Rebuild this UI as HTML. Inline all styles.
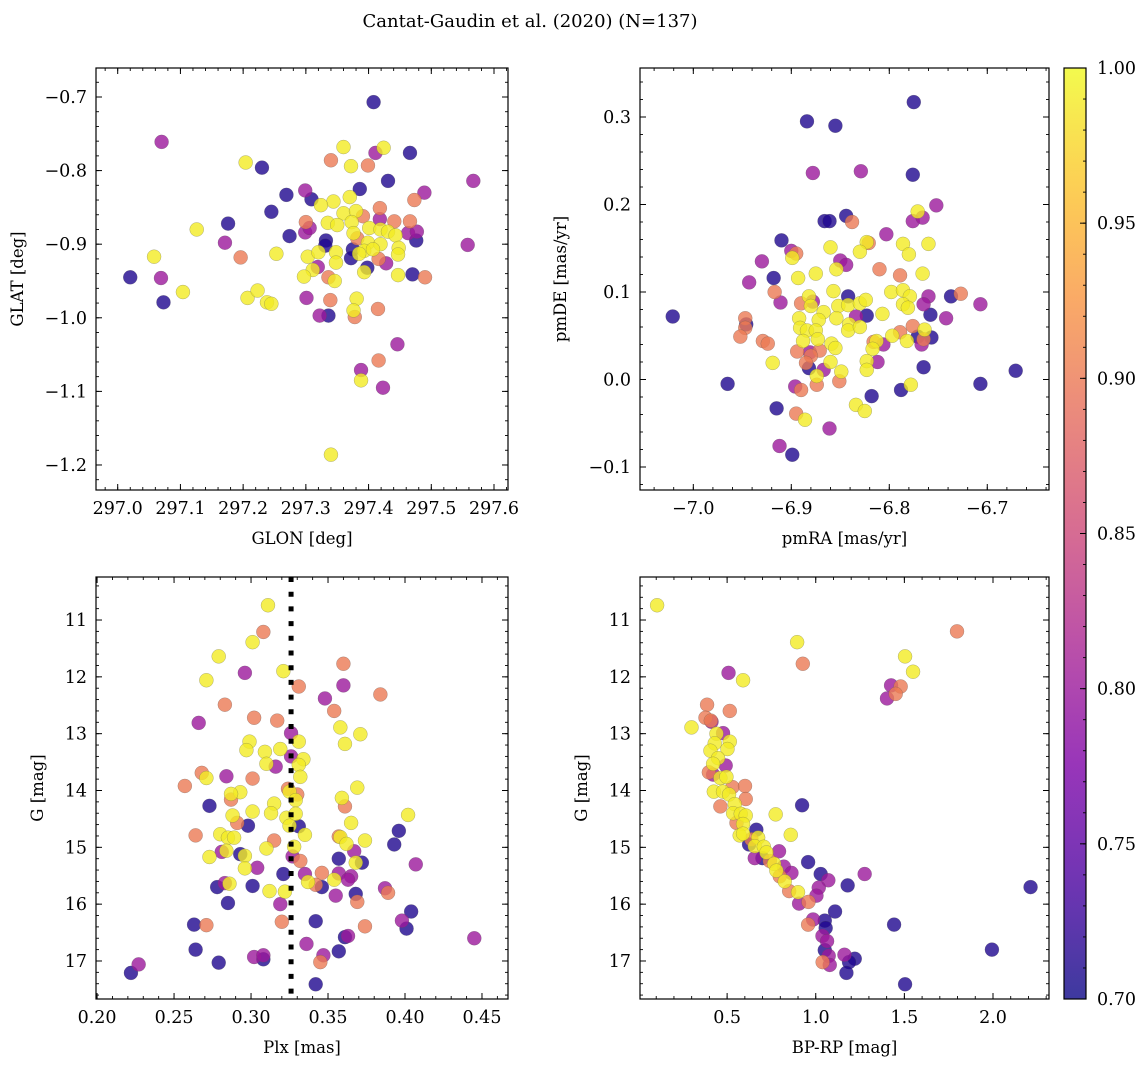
<!DOCTYPE html>
<html><head><meta charset="utf-8"><style>
html,body{margin:0;padding:0;background:#fff;}
svg{display:block;font-family:"DejaVu Serif","Liberation Serif",serif;}
</style></head><body>
<svg id="fig" width="1148" height="1067" viewBox="0 0 1148 1067">
<text x="530" y="27" text-anchor="middle" font-size="18">Cantat-Gaudin et al. (2020) (N=137)</text>
</svg>
<script>
// ---- Panel 1: GLON vs GLAT ----
const glon=[297.408,297.070,297.360,297.411,297.424,297.466,297.204,297.230,297.340,297.372,297.399,297.567,297.431,297.386,297.489,297.299,297.269,297.309,297.344,297.324,297.370,297.473,297.418,297.245,297.176,297.126,297.300,297.335,297.360,297.380,297.391,297.418,297.441,297.466,297.299,297.306,297.274,297.350,297.373,297.401,297.376,297.419,297.431,297.463,297.477,297.476,297.443,297.558,297.171,297.332,297.331,297.382,297.399,297.419,297.375,297.393,297.407,297.448,297.447,297.058,297.196,297.253,297.303,297.320,297.348,297.348,297.372,297.385,297.416,297.428,297.398,297.393,297.020,297.069,297.319,297.311,297.297,297.336,297.346,297.447,297.470,297.490,297.073,297.104,297.207,297.223,297.238,297.245,297.301,297.339,297.381,297.322,297.336,297.378,297.376,297.415,297.446,297.416,297.388,297.388,297.423,297.340];
const glat=[-0.707,-0.761,-0.768,-0.776,-0.769,-0.776,-0.789,-0.796,-0.786,-0.794,-0.793,-0.814,-0.814,-0.825,-0.830,-0.827,-0.833,-0.839,-0.842,-0.847,-0.836,-0.840,-0.851,-0.856,-0.872,-0.880,-0.870,-0.871,-0.858,-0.855,-0.862,-0.866,-0.869,-0.869,-0.884,-0.878,-0.889,-0.874,-0.870,-0.878,-0.885,-0.880,-0.883,-0.885,-0.883,-0.895,-0.888,-0.901,-0.898,-0.895,-0.902,-0.892,-0.898,-0.900,-0.907,-0.909,-0.907,-0.905,-0.914,-0.917,-0.918,-0.913,-0.917,-0.911,-0.911,-0.925,-0.919,-0.913,-0.920,-0.926,-0.932,-0.938,-0.945,-0.946,-0.931,-0.935,-0.944,-0.945,-0.950,-0.942,-0.941,-0.945,-0.979,-0.965,-0.973,-0.963,-0.979,-0.981,-0.973,-0.976,-0.974,-0.997,-0.997,-0.999,-0.990,-0.988,-1.036,-1.058,-1.071,-1.085,-1.095,-1.186];
const prob1=[0.71,0.80,0.99,0.80,0.99,0.71,0.99,0.71,0.90,0.99,0.90,0.80,0.71,0.71,0.80,0.80,0.71,0.71,0.99,0.99,0.99,0.90,0.90,0.71,0.71,0.99,0.90,0.99,0.99,0.99,0.90,0.80,0.90,0.90,0.80,0.80,0.71,0.99,0.99,0.99,0.99,0.99,0.99,0.80,0.80,0.71,0.99,0.80,0.80,0.71,0.71,0.90,0.99,0.99,0.71,0.99,0.99,0.99,0.99,0.99,0.90,0.99,0.99,0.99,0.99,0.99,0.71,0.99,0.90,0.80,0.71,0.99,0.71,0.80,0.80,0.99,0.99,0.90,0.99,0.99,0.71,0.90,0.71,0.99,0.99,0.99,0.99,0.99,0.80,0.90,0.99,0.80,0.71,0.90,0.99,0.90,0.80,0.90,0.80,0.99,0.80,0.99];

// ---- Panel 2: pmRA vs pmDE ----
const pmra=[-6.775,-6.884,-6.855,-6.878,-6.829,-6.776,-6.752,-6.771,-6.776,-6.766,-6.866,-6.861,-6.844,-6.838,-6.803,-6.821,-6.823,-6.786,-6.780,-6.760,-6.860,-6.830,-6.910,-6.900,-6.895,-6.899,-6.930,-6.850,-6.844,-6.854,-6.810,-6.789,-6.766,-6.943,-6.918,-6.893,-6.875,-6.857,-6.917,-6.911,-6.890,-6.882,-6.878,-6.880,-6.842,-6.852,-6.842,-6.830,-6.824,-6.798,-6.786,-6.779,-6.786,-6.781,-6.760,-6.765,-6.737,-6.727,-6.707,-7.021,-6.947,-6.946,-6.947,-6.952,-6.929,-6.924,-6.892,-6.867,-6.872,-6.854,-6.834,-6.823,-6.807,-6.758,-6.742,-6.891,-6.884,-6.875,-6.841,-6.842,-6.830,-6.776,-6.789,-6.797,-6.764,-6.771,-6.757,-6.765,-6.767,-6.782,-6.806,-6.813,-6.816,-6.817,-6.888,-6.873,-6.859,-6.855,-6.894,-6.871,-6.881,-6.880,-6.885,-6.919,-6.860,-6.812,-6.823,-6.823,-6.882,-6.867,-6.874,-6.849,-6.765,-6.965,-6.896,-6.890,-6.874,-6.851,-6.778,-6.788,-6.707,-6.671,-6.818,-6.834,-6.825,-6.915,-6.895,-6.886,-6.861,-6.912,-6.899];
const pmde=[0.317,0.295,0.290,0.236,0.238,0.234,0.199,0.192,0.181,0.185,0.181,0.181,0.187,0.180,0.166,0.156,0.157,0.155,0.143,0.155,0.151,0.146,0.159,0.147,0.144,0.139,0.135,0.136,0.131,0.126,0.126,0.119,0.121,0.111,0.116,0.116,0.121,0.101,0.100,0.088,0.087,0.095,0.089,0.084,0.095,0.084,0.085,0.087,0.091,0.100,0.102,0.095,0.086,0.082,0.095,0.086,0.095,0.098,0.086,0.072,0.070,0.063,0.059,0.049,0.044,0.041,0.070,0.077,0.068,0.070,0.072,0.073,0.075,0.074,0.070,0.059,0.056,0.056,0.063,0.056,0.060,0.061,0.054,0.050,0.057,0.049,0.048,0.046,0.040,0.044,0.040,0.044,0.043,0.035,0.044,0.046,0.041,0.036,0.032,0.033,0.031,0.027,0.019,0.019,0.020,0.020,0.021,0.011,0.013,0.011,0.004,0.009,0.014,-0.005,-0.008,-0.012,-0.006,-0.002,-0.006,-0.012,-0.005,0.010,-0.019,-0.029,-0.036,-0.033,-0.039,-0.046,-0.056,-0.076,-0.086];
const prob2=[0.71,0.71,0.71,0.80,0.80,0.71,0.80,0.99,0.80,0.80,0.71,0.71,0.71,0.90,0.80,0.90,0.99,0.99,0.99,0.99,0.99,0.99,0.71,0.80,0.90,0.99,0.80,0.80,0.80,0.99,0.90,0.90,0.99,0.80,0.71,0.99,0.99,0.99,0.90,0.80,0.90,0.99,0.80,0.99,0.71,0.99,0.99,0.99,0.99,0.99,0.99,0.99,0.99,0.99,0.80,0.80,0.71,0.90,0.80,0.71,0.90,0.71,0.90,0.90,0.90,0.90,0.99,0.99,0.99,0.99,0.80,0.71,0.99,0.71,0.80,0.99,0.99,0.99,0.99,0.99,0.99,0.90,0.90,0.99,0.99,0.71,0.71,0.90,0.80,0.99,0.80,0.99,0.90,0.99,0.99,0.99,0.99,0.99,0.90,0.90,0.80,0.90,0.90,0.99,0.99,0.80,0.99,0.99,0.71,0.80,0.99,0.99,0.71,0.71,0.80,0.90,0.90,0.90,0.99,0.71,0.71,0.71,0.71,0.99,0.99,0.71,0.90,0.99,0.80,0.80,0.71];

// ---- Panel 3: Plx vs G ----
const plx=[0.311,0.308,0.301,0.279,0.296,0.321,0.271,0.331,0.360,0.360,0.384,0.348,0.354,0.283,0.302,0.317,0.266,0.358,0.371,0.361,0.326,0.299,0.297,0.309,0.319,0.331,0.326,0.334,0.331,0.310,0.316,0.332,0.268,0.271,0.284,0.301,0.257,0.324,0.325,0.330,0.293,0.287,0.287,0.369,0.359,0.361,0.329,0.315,0.313,0.301,0.273,0.288,0.291,0.323,0.329,0.325,0.331,0.298,0.402,0.365,0.396,0.393,0.264,0.280,0.285,0.289,0.315,0.335,0.357,0.358,0.362,0.374,0.310,0.328,0.281,0.284,0.273,0.293,0.296,0.327,0.332,0.357,0.367,0.372,0.368,0.407,0.296,0.304,0.321,0.335,0.346,0.357,0.365,0.363,0.354,0.337,0.342,0.346,0.278,0.283,0.286,0.301,0.312,0.322,0.387,0.389,0.368,0.355,0.369,0.285,0.319,0.404,0.398,0.401,0.263,0.271,0.320,0.342,0.374,0.361,0.363,0.445,0.336,0.264,0.357,0.347,0.345,0.302,0.308,0.308,0.279,0.227,0.222,0.342];
const gmag3=[10.74,11.21,11.39,11.64,11.93,11.90,12.06,12.17,11.77,12.15,12.31,12.38,12.60,12.49,12.72,12.77,12.81,12.89,13.01,13.18,12.99,13.14,13.29,13.32,13.27,13.14,13.40,13.45,13.55,13.53,13.58,13.76,13.69,13.78,13.75,13.79,13.92,13.97,14.02,14.07,14.03,14.06,14.16,13.95,14.13,14.28,14.17,14.23,14.40,14.37,14.27,14.44,14.57,14.48,14.41,14.62,14.63,14.62,14.43,14.57,14.71,14.95,14.79,14.77,14.83,14.83,14.88,14.78,14.81,14.82,14.94,14.88,15.02,14.99,15.08,15.06,15.17,15.12,15.15,15.16,15.24,15.20,15.07,15.27,15.27,15.30,15.37,15.36,15.47,15.47,15.45,15.46,15.51,15.57,15.57,15.61,15.66,15.70,15.70,15.63,15.64,15.68,15.77,15.78,15.72,15.80,15.82,15.85,15.96,15.98,16.00,16.13,16.29,16.43,16.36,16.37,16.31,16.30,16.39,16.58,16.56,16.60,16.70,16.80,16.83,16.90,17.02,16.93,16.90,16.97,17.03,17.06,17.21,17.41];
const prob3=[0.99,0.90,0.99,0.99,0.80,0.99,0.99,0.90,0.90,0.80,0.90,0.80,0.90,0.90,0.90,0.90,0.80,0.99,0.99,0.99,0.80,0.99,0.99,0.99,0.99,0.99,0.80,0.99,0.99,0.99,0.80,0.99,0.90,0.99,0.80,0.90,0.90,0.90,0.99,0.90,0.99,0.99,0.90,0.99,0.99,0.90,0.99,0.99,0.99,0.99,0.71,0.99,0.90,0.99,0.99,0.99,0.71,0.71,0.99,0.99,0.71,0.71,0.90,0.99,0.99,0.99,0.90,0.99,0.90,0.99,0.99,0.99,0.99,0.99,0.80,0.99,0.99,0.71,0.99,0.80,0.90,0.71,0.80,0.71,0.99,0.80,0.99,0.80,0.71,0.80,0.90,0.80,0.80,0.80,0.99,0.99,0.90,0.71,0.71,0.80,0.99,0.71,0.99,0.99,0.80,0.90,0.71,0.80,0.90,0.71,0.80,0.71,0.80,0.71,0.71,0.90,0.90,0.71,0.90,0.71,0.80,0.80,0.80,0.71,0.71,0.80,0.90,0.80,0.80,0.71,0.71,0.80,0.71,0.71];
const plxMean=[0.326];

// ---- Panel 4: BP-RP vs G ----
const bprp=[0.105,0.895,0.927,1.797,1.504,1.549,0.508,0.590,1.425,1.479,1.451,1.402,0.387,0.515,0.378,0.412,0.408,0.299,0.477,0.440,0.515,0.430,0.502,0.406,0.449,0.492,0.421,0.397,0.421,0.462,0.496,0.530,0.601,0.605,0.425,0.477,0.511,0.462,0.543,0.534,0.577,0.605,0.923,0.774,0.553,0.590,0.665,0.571,0.859,0.590,0.637,0.675,0.624,0.656,0.707,0.722,0.793,0.656,0.699,0.741,0.765,0.957,0.820,0.778,0.863,1.028,1.276,0.797,0.825,1.071,1.180,2.212,1.017,0.850,0.900,1.004,0.906,0.959,1.109,0.985,0.957,1.051,1.056,1.442,1.038,1.064,1.051,1.073,1.162,1.220,1.188,1.039,1.079,1.173,1.994,1.504];
const gmag4=[10.74,11.39,11.77,11.20,11.64,11.91,11.93,12.06,12.15,12.17,12.30,12.38,12.49,12.60,12.72,12.79,12.77,12.89,12.99,13.00,13.14,13.17,13.27,13.30,13.43,13.56,13.53,13.68,13.72,13.78,13.76,13.94,13.92,14.15,14.02,14.02,14.07,14.28,14.24,14.40,14.41,14.44,14.26,14.42,14.57,14.59,14.69,14.79,14.78,14.76,14.86,14.83,14.95,14.98,14.99,15.09,15.07,15.19,15.19,15.24,15.29,15.26,15.34,15.41,15.45,15.47,15.47,15.51,15.60,15.58,15.67,15.70,15.71,15.77,15.79,15.85,15.99,15.96,16.13,16.27,16.36,16.29,16.42,16.36,16.56,16.65,16.81,16.91,16.89,16.96,17.02,17.02,17.07,17.21,16.80,17.41];
const prob4=[0.99,0.99,0.90,0.90,0.99,0.99,0.80,0.99,0.80,0.90,0.90,0.80,0.90,0.90,0.90,0.80,0.90,0.99,0.80,0.99,0.99,0.99,0.99,0.99,0.99,0.80,0.99,0.90,0.80,0.99,0.99,0.90,0.90,0.90,0.99,0.99,0.99,0.90,0.99,0.99,0.99,0.99,0.71,0.99,0.90,0.99,0.71,0.99,0.99,0.99,0.90,0.99,0.71,0.99,0.99,0.99,0.80,0.80,0.71,0.90,0.99,0.71,0.80,0.99,0.80,0.71,0.80,0.90,0.99,0.80,0.71,0.71,0.80,0.90,0.99,0.80,0.80,0.90,0.71,0.80,0.90,0.71,0.71,0.71,0.80,0.80,0.71,0.80,0.80,0.71,0.71,0.90,0.80,0.71,0.71,0.71];

// colorbar
const cbTicks=[0.70,0.75,0.80,0.85,0.90,0.95,1.00];
const cbRange=[0.70,1.00];

const NS='http://www.w3.org/2000/svg';
const fig=document.getElementById('fig');
function mk(tag,attrs,parent){const e=document.createElementNS(NS,tag);for(const k in attrs)e.setAttribute(k,attrs[k]);(parent||fig).appendChild(e);return e;}
const stops=[[0,'#0d0887'],[0.125,'#4c02a1'],[0.25,'#7e03a8'],[0.375,'#a92395'],[0.5,'#cc4778'],[0.625,'#e56b5d'],[0.75,'#f89441'],[0.875,'#fdc328'],[1,'#f0f921']];
function hex(h){return [1,3,5].map(i=>parseInt(h.substr(i,2),16));}
function plasma(t){t=Math.max(0,Math.min(1,t));for(let i=0;i<stops.length-1;i++){if(t<=stops[i+1][0]){const a=hex(stops[i][1]),b=hex(stops[i+1][1]),f=(t-stops[i][0])/(stops[i+1][0]-stops[i][0]);return 'rgb('+a.map((v,j)=>Math.round(v+(b[j]-v)*f)).join(',')+')';}}return stops[8][1];}
function cmap(v){return plasma((v-cbRange[0])/(cbRange[1]-cbRange[0]));}
function fmt(v,d){const s=Math.abs(v).toFixed(d);return (v<-1e-9?'\u2212':'')+s;}
function ticks(lo,hi,step){const a=[];const s=Math.ceil(Math.min(lo,hi)/step-1e-6),e=Math.floor(Math.max(lo,hi)/step+1e-6);for(let i=s;i<=e;i++)a.push(+(i*step).toFixed(6));return a;}
const TF=17.5, LF=16.5;

function panel(P){
  const g=mk('g',{});
  
  
  const sx=v=>P.x0+(v-P.xd[0])/(P.xd[1]-P.xd[0])*(P.x1-P.x0);
  const sy=v=>P.y0+(v-P.yd[0])/(P.yd[1]-P.yd[0])*(P.y1-P.y0);
  const idx=P.xs.map((_,i)=>i).sort((a,b)=>P.cs[a]-P.cs[b]);
  const pg=mk('g',{},g);
  
  
  idx.forEach(i=>{
    const c=mk('circle',{cx:sx(P.xs[i]),cy:sy(P.ys[i]),r:7,fill:cmap(P.cs[i]),'fill-opacity':0.8,stroke:'#555','stroke-opacity':0.45,'stroke-width':0.5},pg);
    
    
  });
  if(P.extra)P.extra(g,sx,sy);
  const fr=mk('rect',{x:P.x0,y:P.y0,width:P.x1-P.x0,height:P.y1-P.y0,fill:'none',stroke:'#000','stroke-width':1.2},g);
  
  
  ticks(P.xd[0],P.xd[1],P.xminor).forEach(v=>{const x=sx(v);mk('line',{x1:x,x2:x,y1:P.y1,y2:P.y1-3,stroke:'#000','stroke-width':0.9},g);mk('line',{x1:x,x2:x,y1:P.y0,y2:P.y0+3,stroke:'#000','stroke-width':0.9},g);});
  ticks(P.xd[0],P.xd[1],P.xmajor).forEach(v=>{const x=sx(v);mk('line',{x1:x,x2:x,y1:P.y1,y2:P.y1-6,stroke:'#000','stroke-width':1},g);mk('line',{x1:x,x2:x,y1:P.y0,y2:P.y0+6,stroke:'#000','stroke-width':1},g);
    const t=mk('text',{x:x,y:P.y1+24,'text-anchor':'middle','font-size':TF},g);t.textContent=fmt(v,P.xdec);
    
    });
  ticks(P.yd[0],P.yd[1],P.yminor).forEach(v=>{const y=sy(v);mk('line',{x1:P.x0,x2:P.x0+3,y1:y,y2:y,stroke:'#000','stroke-width':0.9},g);mk('line',{x1:P.x1,x2:P.x1-3,y1:y,y2:y,stroke:'#000','stroke-width':0.9},g);});
  ticks(P.yd[0],P.yd[1],P.ymajor).forEach(v=>{const y=sy(v);mk('line',{x1:P.x0,x2:P.x0+6,y1:y,y2:y,stroke:'#000','stroke-width':1},g);mk('line',{x1:P.x1,x2:P.x1-6,y1:y,y2:y,stroke:'#000','stroke-width':1},g);
    const t=mk('text',{x:P.x0-9,y:y+6,'text-anchor':'end','font-size':TF},g);t.textContent=fmt(v,P.ydec);
    
    });
  const xl=mk('text',{x:(P.x0+P.x1)/2,y:P.y1+54,'text-anchor':'middle','font-size':LF},g);xl.textContent=P.xlabel;
  
  
  const yx=P.ylx,yc=(P.y0+P.y1)/2;
  const yl=mk('text',{x:yx,y:yc,'text-anchor':'middle','font-size':LF,transform:'rotate(-90 '+yx+' '+yc+')'},g);yl.textContent=P.ylabel;
  
  
}

panel({name:'panel-glon-glat',x0:96,x1:508,y0:68,y1:490,xd:[296.9654,297.6223],yd:[-0.6606,-1.2340],xs:glon,ys:glat,cs:prob1,xmajor:0.1,xminor:0.02,ymajor:0.1,yminor:0.02,xdec:1,ydec:1,xlabel:'GLON [deg]',ylabel:'GLAT [deg]',ylx:23});
panel({name:'panel-pm',x0:640,x1:1049,y0:68,y1:490,xd:[-7.0544,-6.6370],yd:[0.356,-0.1263],xs:pmra,ys:pmde,cs:prob2,xmajor:0.1,xminor:0.02,ymajor:0.1,yminor:0.02,xdec:1,ydec:1,xlabel:'pmRA [mas/yr]',ylabel:'pmDE [mas/yr]',ylx:566});
panel({name:'panel-plx-g',x0:96,x1:508,y0:577,y1:999,xd:[0.1993,0.4669],yd:[10.243,17.669],xs:plx,ys:gmag3,cs:prob3,xmajor:0.05,xminor:0.01,ymajor:1,yminor:0.2,xdec:2,ydec:0,xlabel:'Plx [mas]',ylabel:'G [mag]',ylx:43,
  extra:(g,sx,sy)=>{plxMean.forEach(m=>{const l=mk('line',{x1:sx(m),x2:sx(m),y1:577,y2:999,stroke:'#000','stroke-width':5,'stroke-dasharray':'5 9.7'},g);
    
    });}});
panel({name:'panel-cmd',x0:640,x1:1049,y0:577,y1:999,xd:[0.0085,2.316],yd:[10.243,17.669],xs:bprp,ys:gmag4,cs:prob4,xmajor:0.5,xminor:0.1,ymajor:1,yminor:0.2,xdec:1,ydec:0,xlabel:'BP-RP [mag]',ylabel:'G [mag]',ylx:587});

(function(){
  const x0=1064,x1=1086,y0=68,y1=999;
  const g=mk('g',{});
  
  
  const defs=mk('defs',{},g);
  const lg=mk('linearGradient',{id:'cbg',x1:0,y1:1,x2:0,y2:0},defs);
  for(let i=0;i<=20;i++){mk('stop',{offset:i/20,'stop-color':plasma(i/20),'stop-opacity':0.8},lg);}
  mk('rect',{x:x0,y:y0,width:x1-x0,height:y1-y0,fill:'url(#cbg)',stroke:'#000','stroke-width':1.2},g);
  const sy=v=>y1-(v-cbRange[0])/(cbRange[1]-cbRange[0])*(y1-y0);
  ticks(cbRange[0],cbRange[1],0.01).forEach(v=>{mk('line',{x1:x1,x2:x1-3,y1:sy(v),y2:sy(v),stroke:'#000','stroke-width':0.9},g);});
  cbTicks.forEach(v=>{const y=sy(v);mk('line',{x1:x1,x2:x1-6,y1:y,y2:y,stroke:'#000','stroke-width':1},g);
    const t=mk('text',{x:x1+11,y:y+6,'font-size':TF},g);t.textContent=v.toFixed(2);
    
    });
})();
</script>
</body></html>
